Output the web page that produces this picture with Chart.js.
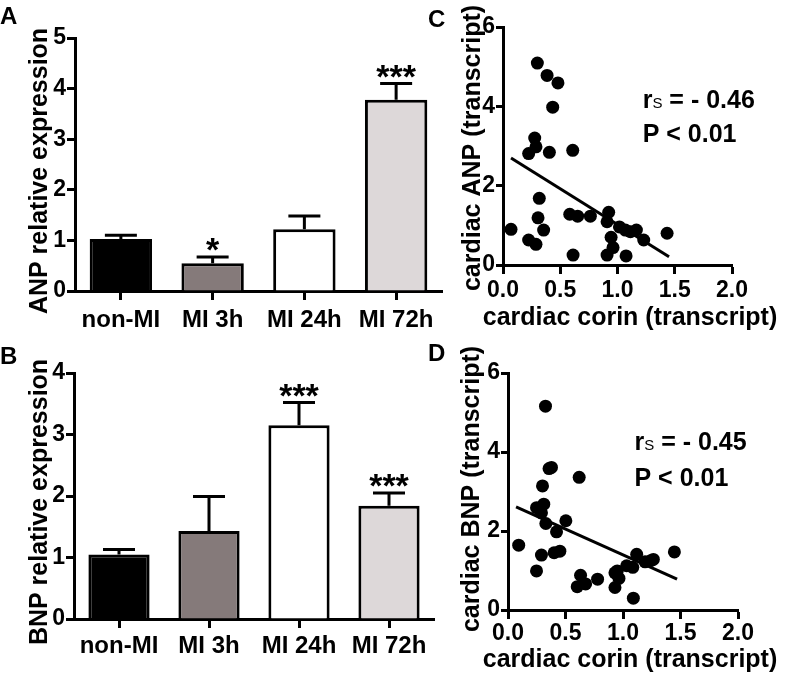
<!DOCTYPE html>
<html>
<head>
<meta charset="utf-8">
<script src="https://cdn.jsdelivr.net/npm/chart.js@4.4.0/dist/chart.umd.min.js"></script>
<style>
  body { margin: 0; background: #fff; }
  #wrap { position: relative; width: 789px; height: 682px; overflow: hidden; font-family: "Liberation Sans", Arial, sans-serif; }
  .box { position: absolute; }
  .lbl { position: absolute; font-weight: bold; font-size: 24px; line-height: 24px; color: #000; }
</style>
</head>
<body>
<div id="wrap">
  <div class="box" style="left:0;top:0;width:445px;height:335px"><canvas id="chartA" width="445" height="335"></canvas></div>
  <div class="box" style="left:0;top:340px;width:445px;height:342px"><canvas id="chartB" width="445" height="342"></canvas></div>
  <div class="box" style="left:440px;top:0;width:349px;height:335px"><canvas id="chartC" width="349" height="335"></canvas></div>
  <div class="box" style="left:440px;top:340px;width:349px;height:342px"><canvas id="chartD" width="349" height="342"></canvas></div>
  <div class="lbl" style="left:0;top:4px">A</div>
  <div class="lbl" style="left:0;top:344px">B</div>
  <div class="lbl" style="left:428px;top:7px">C</div>
  <div class="lbl" style="left:428px;top:341px">D</div>
</div>
<script>
// bar panels
const categories = ["non-MI", "MI 3h", "MI 24h", "MI 72h"];
const anpMean = [1.03, 0.55, 1.22, 3.78];
const anpUpper = [1.10, 0.67, 1.48, 4.10];
const anpStars = ["", "*", "", "***"];
const bnpMean = [1.05, 1.43, 3.15, 1.84];
const bnpUpper = [1.13, 1.99, 3.52, 2.05];
const bnpStars = ["", "", "***", "***"];

// scatter panels: cardiac corin vs ANP / BNP
const corinC = [0.07, 0.30, 0.385, 0.48, 0.434, 0.277, 0.224, 0.288, 0.405, 0.609, 0.317, 0.306, 0.355, 0.224, 0.288, 0.583, 0.652, 0.763, 0.923, 0.909, 1.017, 1.069, 1.113, 1.165, 1.229, 1.433, 0.944, 0.961, 0.909, 0.612, 1.075];
const anpC = [0.90, 5.09, 4.78, 4.59, 3.98, 3.20, 2.81, 2.98, 2.84, 2.89, 1.68, 1.19, 0.88, 0.63, 0.52, 1.28, 1.23, 1.23, 1.33, 1.09, 0.96, 0.88, 0.84, 0.88, 0.63, 0.80, 0.70, 0.44, 0.25, 0.25, 0.23];
const fitCx = [0.07, 1.45];
const fitCy = [2.70, 0.21];
const corinD = [0.093, 0.326, 0.357, 0.378, 0.619, 0.30, 0.248, 0.311, 0.291, 0.329, 0.503, 0.422, 0.291, 0.401, 0.451, 0.248, 0.631, 0.602, 0.675, 0.779, 0.930, 0.950, 0.965, 0.930, 1.032, 1.085, 1.119, 1.192, 1.264, 1.24, 1.447, 1.09];
const bnpD = [1.64, 5.16, 3.58, 3.61, 3.36, 3.14, 2.59, 2.68, 2.46, 2.19, 2.26, 1.98, 1.39, 1.45, 1.49, 0.99, 0.88, 0.59, 0.66, 0.78, 0.94, 0.99, 0.80, 0.57, 1.12, 1.08, 1.41, 1.22, 1.28, 1.25, 1.47, 0.30];
const fitDx = [0.07, 1.47];
const fitDy = [2.61, 0.78];
const statC = ["- 0.46", "P < 0.01"];
const statD = ["- 0.45", "P < 0.01"];

const barColors = ["#000000", "#857a7a", "#ffffff", "#ddd8d9"];
const FONT = '"Liberation Sans", Arial, sans-serif';
Chart.defaults.font.family = FONT;
Chart.defaults.color = "#000";

function errorBars(upper, stars) {
  return {
    id: "errorBars",
    afterDatasetsDraw(chart) {
      const ctx = chart.ctx;
      const y = chart.scales.y;
      const meta = chart.getDatasetMeta(0);
      ctx.save();
      ctx.strokeStyle = "#000";
      ctx.lineWidth = 3;
      meta.data.forEach((bar, i) => {
        const top = y.getPixelForValue(upper[i]);
        ctx.beginPath();
        ctx.moveTo(bar.x, bar.y);
        ctx.lineTo(bar.x, top);
        ctx.moveTo(bar.x - 16, top);
        ctx.lineTo(bar.x + 16, top);
        ctx.stroke();
        if (stars[i]) {
          ctx.fillStyle = "#000";
          ctx.font = "bold 34px " + FONT;
          ctx.textAlign = "center";
          ctx.textBaseline = "alphabetic";
          ctx.fillText(stars[i], bar.x, top + 4);
        }
      });
      ctx.restore();
    }
  };
}

// axis titles drawn by hand so they are not squeezed to the plot width
function axisTitles(yText, yPos, xText, xPos) {
  return {
    id: "axisTitles",
    afterDraw(chart) {
      const ctx = chart.ctx;
      ctx.save();
      ctx.fillStyle = "#000";
      ctx.font = "bold 25px " + FONT;
      ctx.textAlign = "center";
      ctx.textBaseline = "middle";
      ctx.save();
      ctx.translate(yPos[0], yPos[1]);
      ctx.rotate(-Math.PI / 2);
      ctx.fillText(yText, 0, 0);
      ctx.restore();
      if (xText) ctx.fillText(xText, xPos[0], xPos[1]);
      ctx.restore();
    }
  };
}

function statText(lines, x, y1, y2) {
  return {
    id: "statText",
    afterDraw(chart) {
      const ctx = chart.ctx;
      const px = chart.scales.x.getPixelForValue(x);
      ctx.save();
      ctx.fillStyle = "#000";
      ctx.textAlign = "left";
      ctx.textBaseline = "alphabetic";
      let b = chart.scales.y.getPixelForValue(y1);
      ctx.font = "bold 25px " + FONT;
      ctx.fillText("r", px, b);
      let w = ctx.measureText("r").width;
      ctx.font = "15px " + FONT;
      ctx.fillText("S", px + w, b);
      w += ctx.measureText("S").width;
      ctx.font = "bold 25px " + FONT;
      ctx.fillText(" = " + lines[0], px + w, b);
      b = chart.scales.y.getPixelForValue(y2);
      ctx.fillText(lines[1], px, b);
      ctx.restore();
    }
  };
}

function axisStyle(tickLen) {
  return {
    grid: { display: true, drawOnChartArea: false, drawTicks: true, tickLength: tickLen, tickWidth: 3, tickColor: "#000", offset: false },
    border: { display: true, color: "#000", width: 3 }
  };
}

function barChart(id, means, upper, stars, ymax, title, titlePos, pad, xHeight, tickPad) {
  return new Chart(document.getElementById(id), {
    type: "bar",
    data: {
      labels: categories,
      datasets: [{
        data: means,
        backgroundColor: barColors,
        borderColor: "#000",
        borderWidth: 3,
        barPercentage: 0.68,
        categoryPercentage: 1
      }]
    },
    options: {
      responsive: false,
      animation: false,
      layout: { padding: pad },
      plugins: { legend: { display: false }, tooltip: { enabled: false } },
      scales: {
        x: Object.assign(axisStyle(9), {
          ticks: { font: { size: 24, weight: "bold" }, padding: tickPad, maxRotation: 0, autoSkip: false },
          afterFit: s => { s.height = xHeight; }
        }),
        y: Object.assign(axisStyle(8), {
          min: 0, max: ymax,
          ticks: { stepSize: 1, font: { size: 23, weight: "bold" }, padding: 1 },
          afterFit: s => { s.width = pad.yWidth; }
        })
      }
    },
    plugins: [errorBars(upper, stars), axisTitles(title, titlePos)]
  });
}

function scatterChart(id, xs, ys, fx, fy, title, titlePos, xTitlePos, stat, statPos, pad, xHeight, tickPad) {
  return new Chart(document.getElementById(id), {
    type: "scatter",
    data: {
      datasets: [
        {
          data: xs.map((v, i) => ({ x: v, y: ys[i] })),
          backgroundColor: "#000",
          borderWidth: 0,
          pointRadius: 6.5,
          clip: false
        },
        {
          type: "line",
          data: fx.map((v, i) => ({ x: v, y: fy[i] })),
          borderColor: "#000",
          borderWidth: 3,
          pointRadius: 0,
          fill: false
        }
      ]
    },
    options: {
      responsive: false,
      animation: false,
      layout: { padding: pad },
      plugins: { legend: { display: false }, tooltip: { enabled: false } },
      scales: {
        x: Object.assign(axisStyle(9), {
          type: "linear", min: 0, max: 2,
          ticks: { stepSize: 0.5, font: { size: 23, weight: "bold" }, padding: tickPad, callback: v => v.toFixed(1) },
          afterFit: s => { s.height = xHeight; }
        }),
        y: Object.assign(axisStyle(7), {
          min: 0, max: 6,
          ticks: { stepSize: 2, font: { size: 23, weight: "bold" }, padding: 1 },
          afterFit: s => { s.width = pad.yWidth; }
        })
      }
    },
    plugins: [statText(stat, statPos[0], statPos[1], statPos[2]),
              axisTitles(title, titlePos, "cardiac corin (transcript)", xTitlePos)]
  });
}

barChart("chartA", anpMean, anpUpper, anpStars, 5, "ANP relative expression", [40, 171],
  { left: 0, top: 38, right: 3, bottom: 0, yWidth: 75 }, 44, 6);
barChart("chartB", bnpMean, bnpUpper, bnpStars, 4, "BNP relative expression", [40, 162],
  { left: 0, top: 33, right: 11, bottom: 0, yWidth: 74 }, 63, 4);
scatterChart("chartC", corinC, anpC, fitCx, fitCy, "cardiac ANP (transcript)", [33, 148], [190, 318],
  statC, [1.22, 3.95, 3.1], { left: 0, top: 27, right: 57, bottom: 0, yWidth: 63 }, 70, 3);
scatterChart("chartD", corinD, bnpD, fitDx, fitDy, "cardiac BNP (transcript)", [32, 149], [190, 320],
  statD, [1.10, 4.05, 3.14], { left: 0, top: 33, right: 51, bottom: 0, yWidth: 68 }, 72, 1);
</script>
</body>
</html>
